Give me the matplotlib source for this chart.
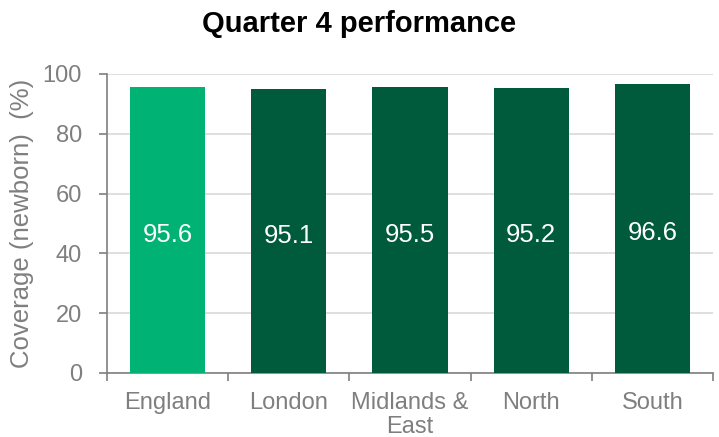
import matplotlib
matplotlib.use("Agg")
import matplotlib.pyplot as plt
import numpy as np

categories = ["England", "London", "Midlands &\nEast", "North", "South"]
values = [95.6, 95.1, 95.5, 95.2, 96.6]
bar_colors = ["#00B274", "#005A3C", "#005A3C", "#005A3C", "#005A3C"]
yticks = [0, 20, 40, 60, 80, 100]

plt.rcParams['font.family'] = ['Liberation Sans', 'DejaVu Sans']
gray = "#7F7F7F"

fig = plt.figure(figsize=(7.19, 4.37), dpi=100)
ax = fig.add_axes([0.1488, 0.1465, 0.8429, 0.6842])

x = np.arange(len(categories))
bars = ax.bar(x, values, width=0.62, color=bar_colors, zorder=3)
for xi, v in zip(x, values):
    ax.text(xi, v / 2 - 1.6, f"{v:.1f}", ha="center", va="center", color="white", fontsize=18.5, zorder=4)

ax.set_xlim(-0.5, len(categories) - 0.5)
ax.set_ylim(0, 100)
ax.set_yticks(yticks)
ax.set_yticklabels([str(t) for t in yticks])
ax.yaxis.grid(True, color="#D9D9D9", linewidth=1.2, zorder=0)
ax.set_axisbelow(True)

ax.set_xticks(x)
ax.set_xticklabels(categories, linespacing=1.1)
ax.set_xticks(np.arange(-0.5, len(categories), 1.0), minor=True)
ax.tick_params(axis="x", which="major", length=0, pad=14, labelsize=17, labelcolor=gray)
ax.tick_params(axis="x", which="minor", length=6, width=1.2, color=gray, direction="out")
ax.tick_params(axis="y", length=6, width=1.2, color=gray, labelsize=17, labelcolor=gray, pad=12)

for s in ["top", "right"]:
    ax.spines[s].set_visible(False)
for s in ["left", "bottom"]:
    ax.spines[s].set_color(gray)
    ax.spines[s].set_linewidth(1.2)

ax.set_ylabel("Coverage (newborn)  (%)", fontsize=18.5, color=gray, labelpad=6)
fig.text(0.5, 0.945, "Quarter 4 performance", ha="center", va="center",
         fontsize=21, fontweight="bold", color="black")

fig.savefig("out.png", dpi=100)
